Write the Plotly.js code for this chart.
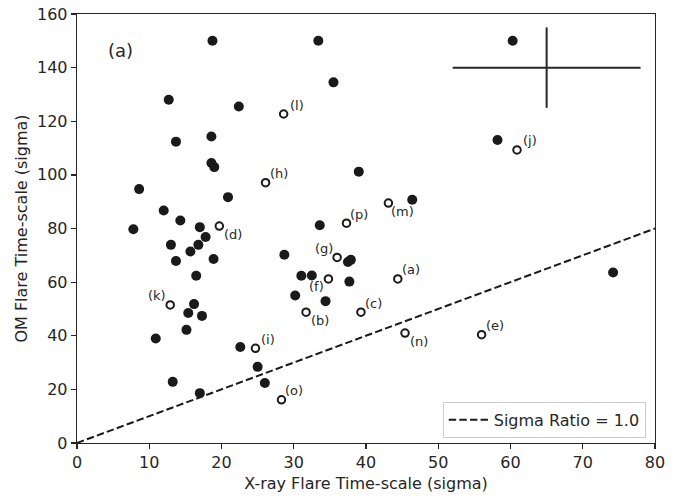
<!DOCTYPE html>
<html><head><meta charset="utf-8">
<script src="https://cdn.plot.ly/plotly-3.0.1.min.js"></script>
<style>html,body{margin:0;padding:0;background:#fff}#chart{width:678px;height:500px}</style>
</head><body><div id="chart"></div>
<script>
// Filled points (X-ray sigma, OM sigma)
const filledX = [18.75, 33.4, 60.3, 12.7, 22.4, 35.5, 13.7, 18.6, 58.2, 18.6, 19.0, 39.0, 8.6, 20.9, 46.4, 12.0, 14.3, 7.8, 17.0, 33.6, 17.8, 13.0, 16.8, 15.7, 13.7, 18.9, 28.7, 37.5, 37.9, 16.5, 31.05, 32.5, 37.7, 30.2, 34.4, 16.2, 15.4, 17.3, 15.15, 10.9, 22.6, 25.0, 26.0, 13.25, 17.0, 74.2];
const filledY = [150, 150, 150, 128.0, 125.5, 134.5, 112.4, 114.3, 113.0, 104.4, 102.9, 101.2, 94.7, 91.7, 90.7, 86.7, 83.0, 79.7, 80.5, 81.2, 76.8, 73.9, 73.9, 71.4, 67.9, 68.6, 70.2, 67.5, 68.3, 62.4, 62.4, 62.5, 60.2, 55.0, 52.9, 51.8, 48.5, 47.4, 42.2, 39.0, 35.8, 28.4, 22.4, 22.8, 18.6, 63.6];
// Open (labelled) points
const openLabels = ['(a)','(b)','(c)','(d)','(e)','(f)','(g)','(h)','(i)','(j)','(k)','(l)','(m)','(n)','(o)','(p)'];
const openX = [44.4, 31.7, 39.3, 19.7, 56.0, 34.8, 36.0, 26.1, 24.7, 60.9, 12.9, 28.6, 43.1, 45.4, 28.3, 37.3];
const openY = [61.2, 48.8, 48.8, 80.9, 40.4, 61.2, 69.2, 97.1, 35.3, 109.3, 51.5, 122.7, 89.5, 41.0, 16.1, 82.0];
const labelSide = ['tr','br','tr','br','tr','bl','tl','tr','tr','tr','tl','tr','br','br','tr','tr'];
// Sigma ratio = 1 line
const ratioX = [0, 80];
const ratioY = [0, 80];
// Representative error cross
const crossX = [65];
const crossY = [140];
const crossErrX = [13];
const crossErrY = [15];
// Ticks
const xTicks = [0, 10, 20, 30, 40, 50, 60, 70, 80];
const yTicks = [0, 20, 40, 60, 80, 100, 120, 140, 160];

const ink = '#262626';
const dot = '#1a1a1a';
const FONT = 'DejaVu Sans, sans-serif';

const shifts = {tr:[13, 9], br:[14, -8], bl:[-12, -8], tl:[-13, 9]};

const traces = [
  {x: ratioX, y: ratioY, mode: 'lines', name: 'Sigma Ratio = 1.0',
   line: {color: dot, width: 2, dash: '7.4px,3.2px'}, showlegend: true, hoverinfo: 'skip'},
  {x: crossX, y: crossY, mode: 'markers', showlegend: false,
   marker: {size: 1, color: 'rgba(0,0,0,0)'},
   error_x: {type: 'data', array: crossErrX, visible: true, width: 0, thickness: 2, color: ink},
   error_y: {type: 'data', array: crossErrY, visible: true, width: 0, thickness: 2, color: ink}},
  {x: filledX, y: filledY, mode: 'markers', showlegend: false,
   marker: {size: 10, color: dot, line: {width: 0}}},
  {x: openX, y: openY, mode: 'markers', showlegend: false,
   marker: {size: 7.5, color: '#ffffff', line: {width: 2, color: dot}}}
];

const annotations = openLabels.map((t, i) => ({
  x: openX[i], y: openY[i], xref: 'x', yref: 'y', text: t, showarrow: false,
  xanchor: 'center', yanchor: 'middle', opacity: 0.99,
  xshift: shifts[labelSide[i]][0], yshift: shifts[labelSide[i]][1],
  font: {family: FONT, size: 13, color: ink}
}));
annotations.push({
  xref: 'paper', yref: 'paper', x: 0.05, y: 0.914, xanchor: 'left', yanchor: 'middle',
  text: '(a)', showarrow: false, font: {family: FONT, size: 18, color: ink}
});

const axisCommon = {
  showgrid: false, zeroline: false, showline: true, linecolor: ink, linewidth: 1.25,
  mirror: true, ticks: 'outside', ticklen: 5, tickwidth: 1.25, tickcolor: ink,
  tickfont: {family: FONT, size: 16, color: ink}
};

const layout = {
  width: 678, height: 500,
  margin: {l: 77, r: 23, t: 14, b: 57},
  paper_bgcolor: '#ffffff', plot_bgcolor: '#ffffff',
  font: {family: FONT, color: ink},
  xaxis: Object.assign({}, axisCommon, {
    range: [0, 80], tickvals: xTicks, ticktext: xTicks.map(String),
    title: {text: 'X-ray Flare Time-scale (sigma)', font: {family: FONT, size: 16, color: ink}, standoff: 6}
  }),
  yaxis: Object.assign({}, axisCommon, {
    range: [0, 160], tickvals: yTicks, ticktext: yTicks.map(String),
    title: {text: 'OM Flare Time-scale (sigma)', font: {family: FONT, size: 16, color: ink}, standoff: 5}
  }),
  showlegend: true,
  legend: {
    x: 0.984, y: 0.012, xanchor: 'right', yanchor: 'bottom', itemwidth: 40,
    bgcolor: 'rgba(255,255,255,0.85)', bordercolor: '#cccccc', borderwidth: 1,
    font: {family: FONT, size: 16, color: ink}
  },
  annotations: annotations
};

Plotly.newPlot('chart', traces, layout, {displayModeBar: false, staticPlot: true});
</script>
</body></html>
